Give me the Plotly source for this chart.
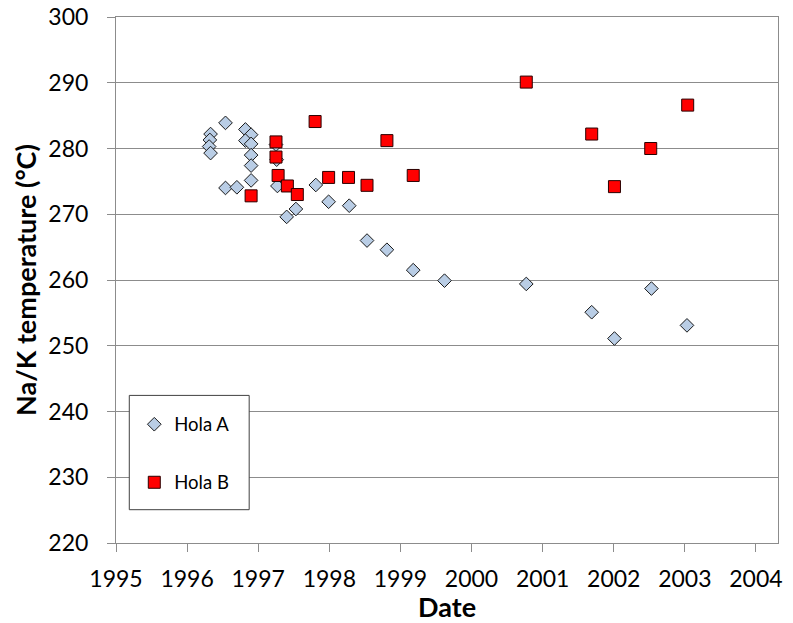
import plotly.graph_objects as go

# Hola A (diamonds)
hola_a_year = [1996.33, 1996.32, 1996.31, 1996.33, 1996.54, 1996.82, 1996.90, 1996.82,
               1996.90, 1996.90, 1996.90, 1996.90, 1996.54, 1996.70, 1997.26, 1997.27,
               1997.25, 1997.53, 1997.40, 1997.81, 1997.99, 1998.28, 1998.53, 1998.81,
               1999.18, 1999.62, 2000.77, 2001.69, 2002.01, 2002.53, 2003.03]
hola_a_temp = [282.2, 281.3, 280.3, 279.3, 283.9, 282.9, 282.1, 281.2,
               280.7, 279.0, 277.4, 275.15, 274.0, 274.1, 278.3, 274.3,
               280.6, 270.8, 269.6, 274.45, 271.9, 271.3, 266.0, 264.6,
               261.5, 259.9, 259.4, 255.1, 251.1, 258.7, 253.1]

# Hola B (squares)
hola_b_year = [1997.80, 1997.25, 1997.25, 1997.28, 1997.41, 1997.55, 1996.90, 1997.99,
               1998.27, 1998.81, 1998.53, 1999.18, 2000.77, 2003.04, 2001.69, 2002.52,
               2002.01]
hola_b_temp = [284.1, 281.0, 278.7, 275.9, 274.3, 273.0, 272.8, 275.6,
               275.6, 281.2, 274.4, 275.9, 290.1, 286.6, 282.2, 280.0,
               274.2]

x_ticks = list(range(1995, 2005))
y_ticks = list(range(220, 301, 10))

FONT = "Lato, 'Open Sans', sans-serif"
GRID = "#8c8c8c"

fig = go.Figure()
fig.add_trace(go.Scatter(
    x=hola_a_year, y=hola_a_temp, mode="markers", name="Hola A",
    legendgroup="a",
    marker=dict(symbol="diamond", size=10.5, color="#B9CDE5",
                line=dict(color="#1a1a1a", width=1)),
))
fig.add_trace(go.Scatter(
    x=hola_b_year, y=hola_b_temp, mode="markers", name="Hola B",
    legendgroup="b",
    marker=dict(symbol="square", size=12, color="#FF0000",
                line=dict(color="#2a0000", width=1)),
))

# legend frame (white box with dark border)
pl, pr, pt, pb = 115.7, 778.3, 17.3, 543.3
pw, ph = pr - pl, pb - pt
fig.add_shape(type="rect", xref="paper", yref="paper",
              x0=(129 - pl) / pw, x1=(249 - pl) / pw,
              y0=(pb - 510) / ph, y1=(pb - 395.7) / ph,
              fillcolor="white", line=dict(color="#404040", width=1), layer="above")

# x-axis title near the bottom edge like the reference
fig.add_annotation(text="<b>Date</b>", xref="paper", yref="paper", x=0.5, y=0,
                   xanchor="center", yanchor="middle", yshift=-63.5, showarrow=False,
                   font=dict(size=27, family=FONT, color="black"))

fig.update_layout(
    width=793, height=623,
    margin=dict(l=pl, r=793 - pr, t=pt, b=623 - pb),
    paper_bgcolor="white", plot_bgcolor="white",
    font=dict(family=FONT, size=23, color="black"),
    showlegend=True,
    legend=dict(
        x=(134 - pl) / pw, y=(pb - 406) / ph, xanchor="left", yanchor="top",
        bgcolor="rgba(0,0,0,0)", borderwidth=0,
        font=dict(size=18.5, family=FONT, color="black"),
        tracegroupgap=31, traceorder="grouped",
        itemsizing="trace",
    ),
    xaxis=dict(
        range=[1995, 2004.31], tickvals=x_ticks, ticktext=[str(v) for v in x_ticks],
        showgrid=False, zeroline=False, automargin=False,
        showline=True, linecolor=GRID, linewidth=1, mirror=True,
        ticks="outside", ticklen=8, tickcolor=GRID, ticklabelstandoff=7,
    ),
    yaxis=dict(
        range=[220, 300], tickvals=y_ticks,
        showgrid=True, gridcolor=GRID, gridwidth=1, zeroline=False, automargin=False,
        showline=True, linecolor=GRID, linewidth=1, mirror=True,
        ticks="outside", ticklen=8, tickcolor=GRID, ticklabelstandoff=14,
        title=dict(text="<b>Na/K temperature (°C)</b>", font=dict(size=27, family=FONT), standoff=3),
    ),
)

fig.write_html("out.html", config={"displayModeBar": False},
               post_script="document.body.style.margin='0';")
